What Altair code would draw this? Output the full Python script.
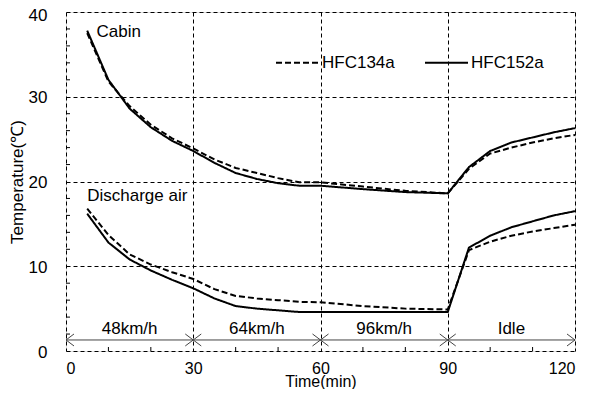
import altair as alt
import pandas as pd

FONT = "Liberation Sans"

time_min = [5, 10, 15, 20, 25, 30, 35, 40, 45, 50, 55, 60, 70, 80, 90, 95, 100, 105, 110, 115, 120]
cabin_152a = [37.8, 32.0, 28.6, 26.4, 24.8, 23.6, 22.2, 21.0, 20.3, 19.8, 19.5, 19.5, 19.1, 18.75, 18.6, 21.7, 23.6, 24.6, 25.2, 25.8, 26.3]
cabin_134a = [37.5, 31.8, 28.9, 26.7, 25.1, 23.9, 22.6, 21.6, 21.0, 20.4, 19.9, 19.9, 19.4, 18.9, 18.6, 21.5, 23.3, 24.0, 24.6, 25.1, 25.5]
disch_152a = [16.2, 12.8, 10.8, 9.5, 8.4, 7.4, 6.2, 5.3, 5.0, 4.8, 4.6, 4.6, 4.6, 4.6, 4.6, 12.2, 13.6, 14.6, 15.3, 16.0, 16.5]
disch_134a = [16.8, 13.7, 11.4, 10.2, 9.3, 8.5, 7.3, 6.5, 6.2, 6.0, 5.8, 5.75, 5.3, 5.0, 4.9, 11.9, 12.9, 13.6, 14.1, 14.5, 14.9]

x_major = [0, 30, 60, 90, 120]
y_major = [0, 10, 20, 30, 40]
x_minor = [10, 20, 40, 50, 70, 80, 100, 110]
y_minor = [2, 4, 6, 8, 12, 14, 16, 18, 22, 24, 26, 28, 32, 34, 36, 38]

phase_labels = ["48km/h", "64km/h", "96km/h", "Idle"]
phase_centers = [15, 45, 75, 105]
phase_bounds = [0, 30, 60, 90, 120]
arrow_y = 1.3
phase_label_y = 2.65

rows = []
for series, ref, vals in [("Cabin", "HFC152a", cabin_152a), ("Cabin", "HFC134a", cabin_134a),
                          ("Discharge", "HFC152a", disch_152a), ("Discharge", "HFC134a", disch_134a)]:
    for t, v in zip(time_min, vals):
        rows.append({"t": t, "temp": v, "series": series, "ref": ref, "key": series + ref})
df = pd.DataFrame(rows)

xs = alt.Scale(domain=[0, 120], nice=False, zero=False)
ys = alt.Scale(domain=[0, 40], nice=False, zero=False)

axis_common = dict(labelFont=FONT, labelColor="black", titleFont=FONT,
                   titleFontWeight="normal", titleColor="black",
                   ticks=False, domain=False, grid=True, gridColor="black", gridDash=[4, 3],
                   gridWidth=1, gridOpacity=1)

lines = alt.Chart(df).mark_line(color="black", strokeWidth=2).encode(
    x=alt.X("t:Q", scale=xs, axis=alt.Axis(values=x_major, title="Time(min)", labelFontSize=16,
                                           labelPadding=9, titleFontSize=16, titlePadding=-3,
                                           **axis_common)),
    y=alt.Y("temp:Q", scale=ys, axis=alt.Axis(values=y_major, title="Temperature(℃)", labelFontSize=17,
                                              labelPadding=19,
                                              labelOffset={"condition": {"test": "datum.value == 40", "value": 3},
                                                           "value": 1},
                                              titleFontSize=17, titlePadding=2, **axis_common)),
    strokeDash=alt.StrokeDash("ref:N", scale=alt.Scale(domain=["HFC134a", "HFC152a"], range=[[6, 3], [1, 0]]),
                              legend=alt.Legend(orient="none", legendX=209, legendY=28, direction="horizontal",
                                                title=None, symbolType="stroke", symbolSize=1849,
                                                symbolStrokeWidth=2, symbolStrokeColor="black",
                                                labelFont=FONT, labelFontSize=17, labelColor="black",
                                                labelOffset=2, columnPadding=26)),
    detail="key:N",
)

ann_df = pd.DataFrame({"label": ["Cabin", "Discharge air"], "t": [7.2, 5.0], "temp": [37.6, 18.3]})
ann = alt.Chart(ann_df).mark_text(align="left", baseline="middle", font=FONT, fontSize=17, color="black").encode(
    x=alt.X("t:Q", scale=xs), y=alt.Y("temp:Q", scale=ys), text="label:N")

ph_df = pd.DataFrame({"label": phase_labels, "t": phase_centers, "temp": [phase_label_y] * 4})
ph = alt.Chart(ph_df).mark_text(align="center", baseline="middle", font=FONT, fontSize=17, color="black").encode(
    x=alt.X("t:Q", scale=xs), y=alt.Y("temp:Q", scale=ys), text="label:N")

arr_df = pd.DataFrame({"t": [phase_bounds[0]], "t2": [phase_bounds[-1]], "temp": [arrow_y]})
arr_line = alt.Chart(arr_df).mark_rule(color="#444", strokeWidth=1).encode(
    x=alt.X("t:Q", scale=xs), x2="t2:Q", y=alt.Y("temp:Q", scale=ys))

left_df = pd.DataFrame({"t": phase_bounds[:-1], "temp": [arrow_y] * 4})
right_df = pd.DataFrame({"t": phase_bounds[1:], "temp": [arrow_y] * 4})
head_l = alt.Chart(left_df).mark_point(shape="M1,-0.75L0,0L1,0.75", size=256, filled=False,
                                       color="#444", strokeWidth=1, opacity=1).encode(
    x=alt.X("t:Q", scale=xs), y=alt.Y("temp:Q", scale=ys))
head_r = alt.Chart(right_df).mark_point(shape="M-1,-0.75L0,0L-1,0.75", size=256, filled=False,
                                        color="#444", strokeWidth=1, opacity=1).encode(
    x=alt.X("t:Q", scale=xs), y=alt.Y("temp:Q", scale=ys))

ytick_df = pd.DataFrame({"v": y_minor})
yticks = alt.Chart(ytick_df).mark_rule(color="black", strokeWidth=1).encode(
    y=alt.Y("v:Q", scale=ys), x=alt.value(0), x2=alt.value(4))
xtick_df = pd.DataFrame({"v": x_minor})
xticks = alt.Chart(xtick_df).mark_rule(color="black", strokeWidth=1).encode(
    x=alt.X("v:Q", scale=xs), y=alt.value(339), y2=alt.value(335))

chart = alt.layer(lines, ann, ph, arr_line, head_l, head_r, yticks, xticks).properties(
    width=509, height=339,
    autosize=alt.AutoSizeParams(type="none"),
    padding={"left": 58, "top": 4, "right": 9, "bottom": 38},
).configure_view(stroke="#222", strokeWidth=1.5).configure(background="white")

chart.save("out.html", embed_options={"renderer": "svg", "actions": False})
